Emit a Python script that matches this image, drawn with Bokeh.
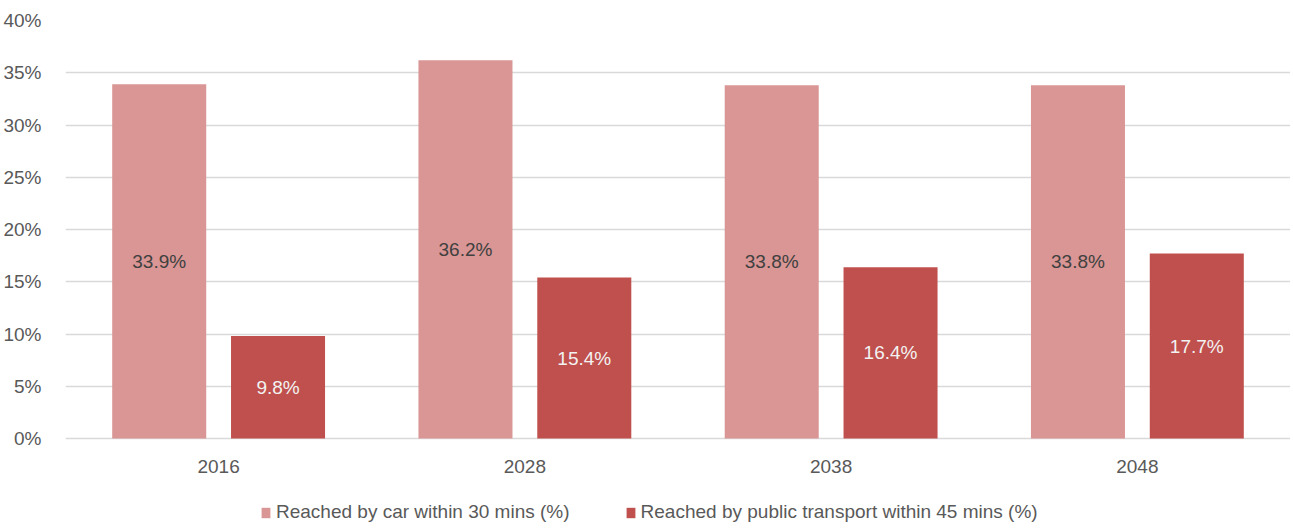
from bokeh.plotting import figure
from bokeh.models import ColumnDataSource, FactorRange, LabelSet, Legend, LegendItem, PrintfTickFormatter, FixedTicker
from bokeh.core.properties import value
from bokeh.transform import dodge
from bokeh.embed import file_html
from bokeh.resources import INLINE

years = ["2016", "2028", "2038", "2048"]
car = [33.9, 36.2, 33.8, 33.8]
pt = [9.8, 15.4, 16.4, 17.7]
car_name = "Reached by car within 30 mins (%)"
pt_name = "Reached by public transport within 45 mins (%)"
y_ticks = [0, 5, 10, 15, 20, 25, 30, 35, 40]

FONT = "Liberation Sans"
FS = "19px"
YEAR_LABEL_Y = -2.68   # layout: year labels sit just under the 0% line

src = ColumnDataSource(dict(
    year=years,
    car=car,
    pt=pt,
    car_mid=[v / 2 for v in car],
    pt_mid=[v / 2 for v in pt],
    car_lbl=[f"{v:.1f}%" for v in car],
    pt_lbl=[f"{v:.1f}%" for v in pt],
    lbl_y=[YEAR_LABEL_Y] * len(years),
))

p = figure(x_range=FactorRange(*years, range_padding=0), y_range=(-8.13, 40), width=1290, height=523,
           output_backend="svg", toolbar_location=None,
           min_border_left=57, min_border_right=0, min_border_top=20, min_border_bottom=0)
p.outline_line_color = None

r1 = p.vbar(x=dodge("year", -0.194, range=p.x_range), top="car", width=0.307, source=src,
            fill_color="#D99694", line_color=None)
r2 = p.vbar(x=dodge("year", 0.194, range=p.x_range), top="pt", width=0.307, source=src,
            fill_color="#C0504D", line_color=None)

l1 = LabelSet(x=dodge("year", -0.194, range=p.x_range), y="car_mid", text="car_lbl", source=src,
              text_align="center", text_baseline="middle", text_font=value(FONT),
              text_font_size=FS, text_color="#404040")
l2 = LabelSet(x=dodge("year", 0.194, range=p.x_range), y="pt_mid", text="pt_lbl", source=src,
              text_align="center", text_baseline="middle", text_font=value(FONT),
              text_font_size=FS, text_color="#F2F2F2")
l3 = LabelSet(x="year", y="lbl_y", text="year", source=src,
              text_align="center", text_baseline="middle", text_font=value(FONT),
              text_font_size=FS, text_color="#595959")
p.add_layout(l1)
p.add_layout(l2)
p.add_layout(l3)

p.yaxis.ticker = FixedTicker(ticks=y_ticks)
p.yaxis.formatter = PrintfTickFormatter(format="%d%%")
p.yaxis.axis_line_color = None
p.yaxis.major_tick_line_color = None
p.yaxis.minor_tick_line_color = None
p.yaxis.major_label_standoff = 18
p.yaxis.major_label_text_font = FONT
p.yaxis.major_label_text_font_size = FS
p.yaxis.major_label_text_color = "#595959"

p.xaxis.visible = False

p.xgrid.grid_line_color = None
p.ygrid.grid_line_color = "#D9D9D9"
p.ygrid.grid_line_width = 1.5

legend = Legend(items=[LegendItem(label=car_name, renderers=[r1]),
                       LegendItem(label=pt_name, renderers=[r2])],
                orientation="horizontal", location=(195, 0),
                label_text_font=FONT, label_text_font_size=FS, label_text_color="#595959",
                glyph_width=11, glyph_height=13, spacing=55, label_standoff=5,
                border_line_color=None, background_fill_alpha=0, padding=0, margin=0)
p.add_layout(legend)

open("out.html", "w").write(file_html(p, INLINE))
